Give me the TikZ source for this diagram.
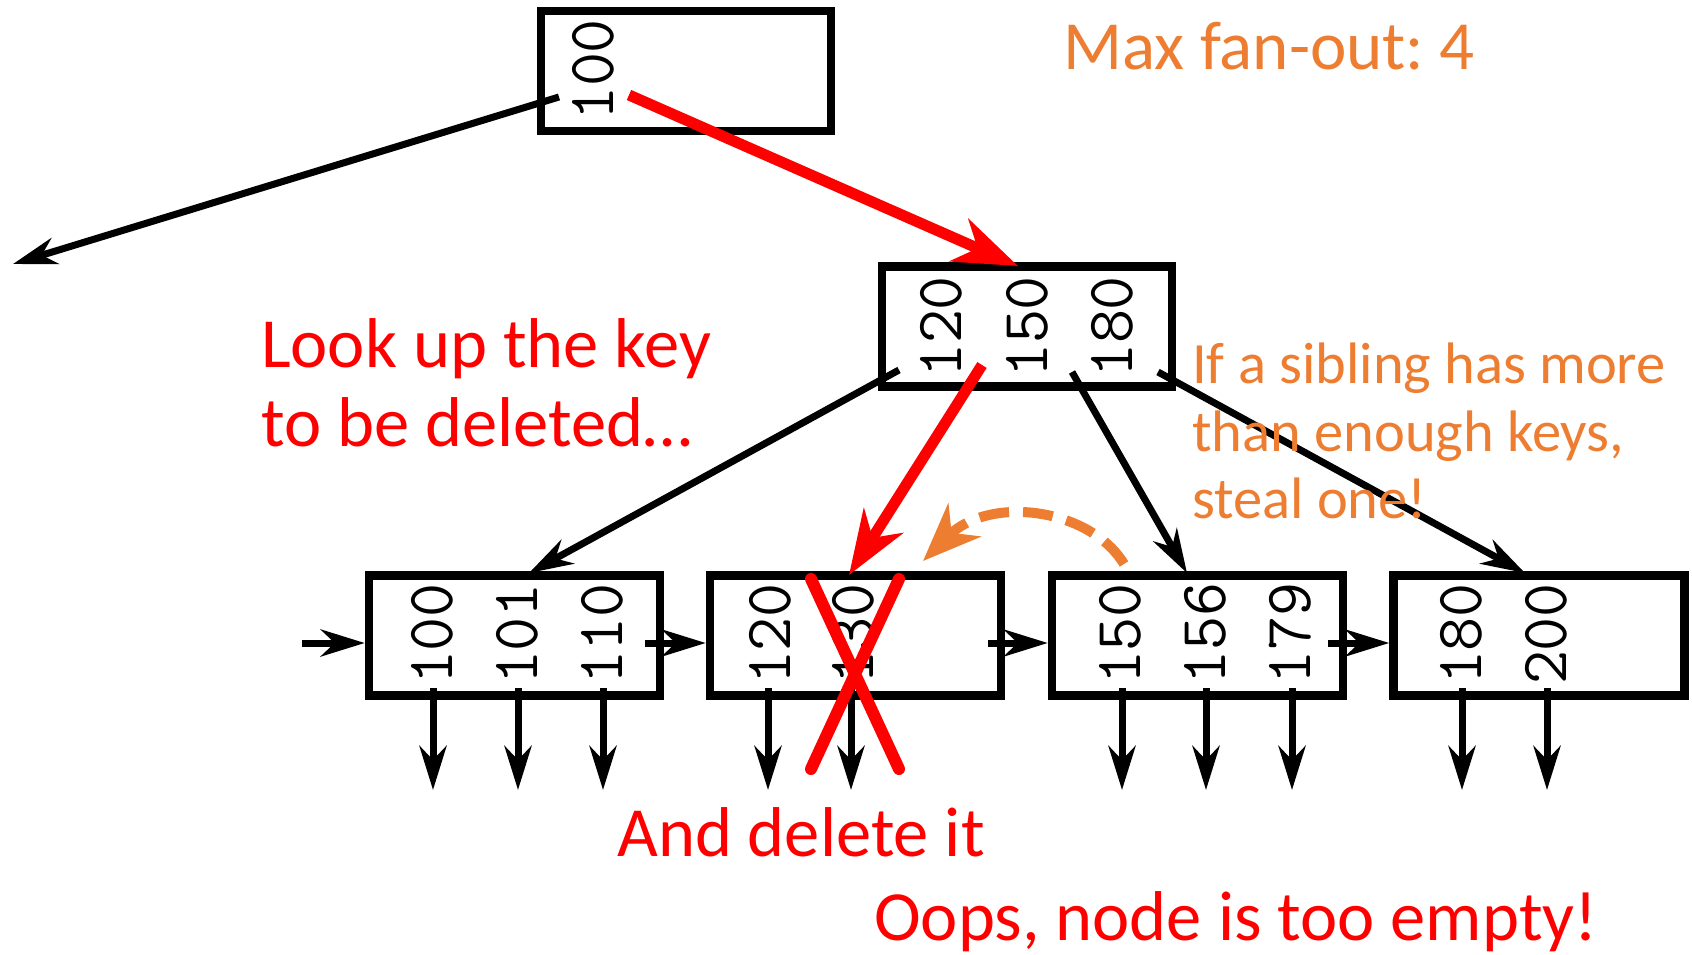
\documentclass[tikz,border=0pt]{standalone}
\usepackage{fontspec}
\newfontfamily\calib{Carlito}
\usetikzlibrary{arrows.meta,calc}
\definecolor{myred}{RGB}{255,0,0}
\definecolor{myorange}{RGB}{237,125,49}
\frenchspacing
\begin{document}
\begin{tikzpicture}[x=1pt,y=-1pt,
  keybox/.style={draw, line width=8.5pt, inner sep=0pt, minimum width=291pt, minimum height=120pt},
  keynum/.style={rotate=90, inner sep=0pt, font=\fontsize{66}{66}\selectfont\ttfamily\addfontfeature{FakeBold=0.6}},
  ptr/.style={line width=7pt, -{Stealth[length=44pt,width=27pt,inset=14pt]}},
  redptr/.style={draw=myred, line width=11pt, -{Stealth[length=64pt,width=46pt,inset=20pt]}},
  crossline/.style={draw=myred, line width=12pt, line cap=round},
  stealarrow/.style={draw=myorange, line width=10pt, dash pattern=on 30pt off 14pt, -{Stealth[length=58pt,width=46pt,inset=18pt]}},
  redlbl/.style={text=myred, inner sep=0pt, anchor=base west, font=\fontsize{70.5}{79}\selectfont\calib},
  orlbl/.style={text=myorange, inner sep=0pt, anchor=base west, font=\fontsize{58.5}{67}\selectfont\calib},
  maxlbl/.style={text=myorange, inner sep=0pt, anchor=base west, font=\fontsize{69}{80}\selectfont\calib}
]
\useasboundingbox (0,0) rectangle (1692,955);

% boxes
\node[keybox, minimum width=290pt] (root) at (686,71) {};
\node[keybox, minimum width=290pt] (mid) at (1027,326.5) {};
\node[keybox] (l1) at (514.5,635.5) {};
\node[keybox] (l2) at (855.5,635.5) {};
\node[keybox] (l3) at (1197.5,635.5) {};
\node[keybox] (l4) at (1539,635.5) {};

% keys
\node[keynum] (r100) at (593,70) {100};
\node[keynum] (m120) at (941,327) {120};
\node[keynum] (m150) at (1027,327) {150};
\node[keynum] (m180) at (1112,327) {180};
\node[keynum] (a100) at (432,634) {100};
\node[keynum] (a101) at (517,634) {101};
\node[keynum] (a110) at (602,634) {110};
\node[keynum] (b120) at (770,634) {120};
\node[keynum] (b130) at (853,634) {130};
\node[keynum] (c150) at (1120,634) {150};
\node[keynum] (c156) at (1205,634) {156};
\node[keynum] (c179) at (1290,634) {179};
\node[keynum] (d180) at (1461,634) {180};
\node[keynum] (d200) at (1546,634) {200};

% pointer coordinates
\coordinate (rs1) at (559,97);
\coordinate (rt1) at (13,264);
\coordinate (rs2) at (629,95);
\coordinate (rt2) at (1018,266);
\coordinate (ms1) at (899,370);
\coordinate (mt1) at (529,573);
\coordinate (ms2) at (982,365);
\coordinate (mt2) at (849,575);
\coordinate (ms3) at (1072,372);
\coordinate (mt3) at (1187,573);
\coordinate (ms4) at (1158,372);
\coordinate (mt4) at (1525,573);

\draw[ptr] (rs1) -- (rt1);
\draw[redptr] (rs2) -- (rt2);
\draw[ptr] (ms1) -- (mt1);
\draw[redptr] (ms2) -- (mt2);
\draw[ptr] (ms3) -- (mt3);
\draw[ptr] (ms4) -- (mt4);

% sibling links
\coordinate (in0) at (302,643);
\coordinate (s1) at (645,643);
\coordinate (s2) at (988,643);
\coordinate (s3) at (1328,643);
\draw[ptr] (in0) -- (l1.west |- in0);
\draw[ptr] (s1) -- (l2.west |- s1);
\draw[ptr] (s2) -- (l3.west |- s2);
\draw[ptr] (s3) -- (l4.west |- s3);

% child pointers
\foreach \x/\n in {433/a,518/b,603/c,768/d,851/e,1122/f,1206/g,1292/h,1462/i,1547/j}{
  \coordinate (d\n s) at (\x,688);
  \coordinate (d\n t) at (\x,790);
  \draw[ptr] (d\n s) -- (d\n t);
}

% red cross
\coordinate (x1) at (811,579);
\coordinate (x2) at (899,769);
\coordinate (x3) at (899,579);
\coordinate (x4) at (811,769);
\draw[crossline] (x1) -- (x2);
\draw[crossline] (x3) -- (x4);

% steal arrow
\coordinate (st0) at (1124,564);
\coordinate (st1) at (923,561);
\draw[stealarrow] (st0) .. controls (1090,508) and (990,495) .. (st1);

% labels
\node[maxlbl] (maxfan) at (1063,70) {Max fan-out: 4};
\node[redlbl] (look1) at (261,367) {Look up the key};
\node[redlbl] (look2) at (261,446) {to be deleted…};
\node[redlbl] (anddel) at (617,856) {And delete it};
\node[redlbl] (oops) at (874,940) {Oops, node is too empty!};
\node[orlbl] (sib1) at (1192,383) {If a sibling has more};
\node[orlbl] (sib2) at (1192,451) {than enough keys,};
\node[orlbl] (sib3) at (1192,518) {steal one!};
\end{tikzpicture}
\end{document}
